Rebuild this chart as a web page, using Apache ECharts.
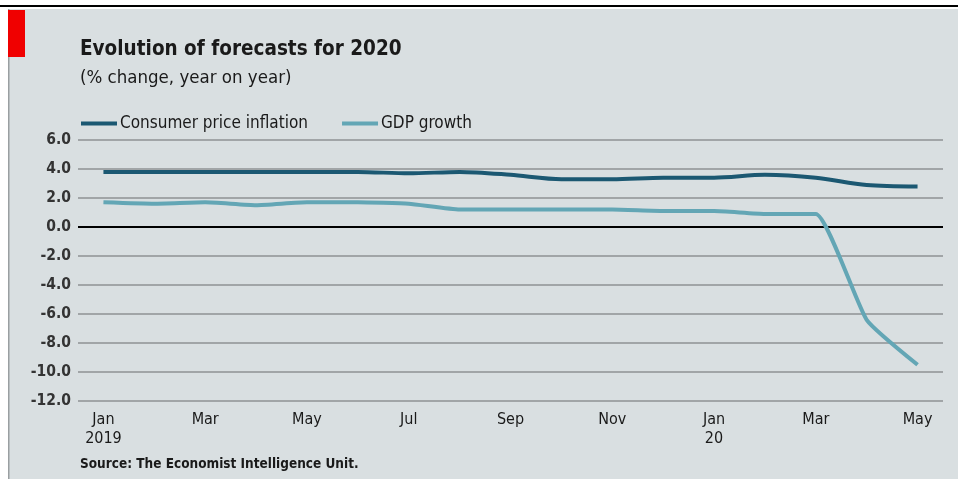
<!DOCTYPE html>
<html><head><meta charset="utf-8">
<script src="https://cdn.jsdelivr.net/npm/echarts@6/dist/echarts.min.js"></script>
<style>html,body{margin:0;padding:0;background:#fff;}#c{width:958px;height:479px;}</style>
</head><body><div id="c"></div>
<script>
const categories = ['Jan\n2019','Feb','Mar','Apr','May','Jun','Jul','Aug','Sep','Oct','Nov','Dec','Jan\n20','Feb','Mar','Apr','May'];
const cpi = [3.8,3.8,3.8,3.8,3.8,3.8,3.7,3.8,3.6,3.3,3.3,3.4,3.4,3.6,3.4,2.9,2.8];
const gdp = [1.7,1.6,1.7,1.5,1.7,1.7,1.6,1.2,1.2,1.2,1.2,1.1,1.1,0.9,0.9,-6.4,-9.5];
const yTicks = [-12,-10,-8,-6,-4,-2,0,2,4,6];
const FONT = '"Liberation Sans Narrow","DejaVu Sans Condensed","Roboto",sans-serif';
const chart = echarts.init(document.getElementById('c'));
chart.setOption({
  backgroundColor: '#fff',
  animation: false,
  graphic: [
    {type:'rect', left:8, top:9, shape:{width:950, height:470}, style:{fill:'#d9dfe1'}},
    {type:'rect', left:8, top:9, shape:{width:1.5, height:470}, style:{fill:'#9a9fa1'}},
    {type:'rect', left:0, top:5, shape:{width:958, height:2}, style:{fill:'#000'}},
    {type:'rect', left:8, top:10, shape:{width:17, height:47}, style:{fill:'#f00000'}},
    {type:'text', left:80, top:39, style:{text:'Evolution of forecasts for 2020', font:'bold 20.5px '+FONT, fill:'#1a1a1a'}},
    {type:'text', left:80, top:69, style:{text:'(% change, year on year)', font:'18.5px '+FONT, fill:'#1a1a1a'}},
    {type:'text', left:80, top:457, style:{text:'Source: The Economist Intelligence Unit.', font:'bold 13.5px '+FONT, fill:'#1a1a1a'}}
  ],
  legend: {
    left: 76, top: 110, itemWidth: 36, itemHeight: 4, itemGap: 34,
    icon: 'rect',
    textStyle: {fontFamily: FONT, fontSize: 17, color: '#1a1a1a', padding:[0,0,0,-2]},
    data: ['Consumer price inflation','GDP growth']
  },
  grid: {left: 78, right: 15, top: 140, bottom: 78},
  xAxis: {
    type: 'category', data: categories, boundaryGap: true,
    axisLine: {show:false}, axisTick: {show:false},
    axisLabel: {interval: 1, fontFamily: FONT, fontSize: 16, color:'#1a1a1a', margin: 9, lineHeight: 19}
  },
  yAxis: {
    type: 'value', min: -12, max: 6, interval: 2,
    axisLine: {show:false}, axisTick: {show:false},
    axisLabel: {formatter: v => v.toFixed(1), fontFamily: FONT, fontWeight:'bold', fontSize: 15.5, color:'#333', margin: 7},
    splitLine: {lineStyle: {color:'#8e9293', width: 1.5}}
  },
  series: [
    {name:'Consumer price inflation', type:'line', data:cpi, symbol:'none', smooth:0.3,
     lineStyle:{color:'#1b5872', width:4}, itemStyle:{color:'#1b5872'}, z:3},
    {name:'GDP growth', type:'line', data:gdp, symbol:'none', smooth:0.15,
     lineStyle:{color:'#63a6b5', width:4}, itemStyle:{color:'#63a6b5'}, z:3,
     markLine:{silent:true, symbol:'none', label:{show:false}, lineStyle:{color:'#000', width:2, type:'solid'}, data:[{yAxis:0}], z:2}}
  ]
});
</script></body></html>
